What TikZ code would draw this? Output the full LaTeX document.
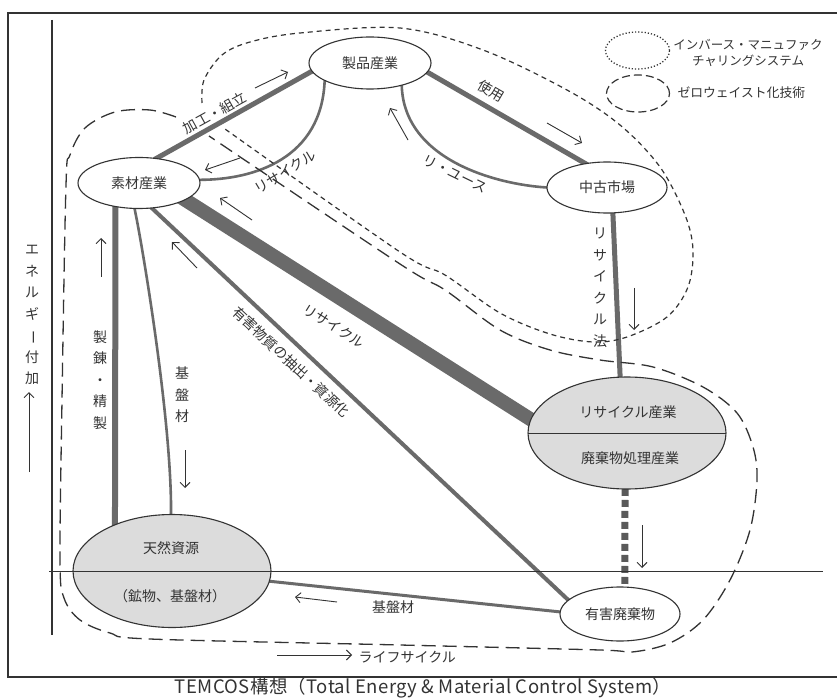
\documentclass[tikz,border=0pt]{standalone}
\usepackage{fontspec}
\setmainfont{Noto Sans CJK JP}
\usepackage{graphicx}
\usetikzlibrary{shapes.geometric,arrows.meta,calc}
\pgfdeclarelayer{bg}
\pgfsetlayers{bg,main}
\definecolor{ink}{HTML}{333333}
\definecolor{conn}{HTML}{6A6A6A}
\definecolor{shade}{HTML}{DCDCDC}
\newcommand{\vchoon}{\rotatebox[origin=c]{-90}{ー}}
\begin{document}
\begin{tikzpicture}[x=1pt,y=-1pt,font=\fontsize{14}{17}\selectfont,text=ink,
  ell/.style={ellipse, draw=ink, line width=1.1pt, fill=white, inner sep=0pt, outer sep=0pt},
  cline/.style={draw=conn, shorten <=-2pt, shorten >=-2pt},
  ccurve/.style={draw=conn, line width=2.6pt},
  flow/.style={draw=ink, line width=0.9pt, -{Straight Barb[length=5pt,width=10pt]}},
  vtext/.style={align=center, font=\fontsize{14}{21.5}\selectfont, inner sep=1pt},
  imloop/.style={draw=ink, line width=1.2pt, dash pattern=on 5pt off 4pt},
  zwloop/.style={draw=ink, line width=1.3pt, dash pattern=on 14pt off 7pt}]
\useasboundingbox (0,0) rectangle (837,700);

% nodes
\node[ell, minimum width=122pt, minimum height=52pt] (P) at (370,63) {製品産業};
\node[ell, minimum width=122pt, minimum height=51pt] (S) at (139,183) {素材産業};
\node[ell, minimum width=120pt, minimum height=51pt] (C) at (607,187.5) {中古市場};
\node[ell, fill=shade, minimum width=198pt, minimum height=112pt] (R) at (627,433) {};
\node[ell, fill=shade, minimum width=198pt, minimum height=113pt] (N) at (172,571) {};
\node[ell, minimum width=120pt, minimum height=54pt] (Y) at (620,614) {有害廃棄物};

\draw[ink, line width=1pt] (R.west) -- (R.east);
\node (Rt) at (628,412) {リサイクル産業};
\node (Rb) at (630,458) {廃棄物処理産業};
\node (Nt) at (171,548) {天然資源};
\node (Nb) at (170,596) {（鉱物、基盤材）};

\begin{pgfonlayer}{bg}
\fill[white] (0,0) rectangle (837,700);
% connectors
\draw[cline, line width=5pt] (S.55) -- (P.188);
\draw[cline, line width=5pt] (P.-9) -- (C.132);
\draw[cline, line width=5pt] (C.-77) -- (R.97);
\draw[cline, line width=14pt, shorten <=-8pt, shorten >=-8pt] (S.-20) -- (R.172);
\draw[cline, line width=4pt] (S.-63) -- (Y.165);
\draw[cline, line width=6pt] (S.-135) -- (N.141);
\draw[ccurve] (S.-100) .. controls +(7,32) and +(1,-94) .. (N.91);
\draw[cline, line width=3pt] (N.-6) -- (Y.178);
\draw[ccurve] (P.201) .. controls +(-3,78) and +(55,0) .. (S.3);
\draw[ccurve] (P.-35) .. controls +(2,75) and +(-50,-3) .. (C.180);
\draw[draw=conn!85!black, line width=7pt, dash pattern=on 7pt off 4pt] (R.-92) -- (Y.80);
% boundaries
\draw[imloop] plot[smooth, tension=0.55] coordinates {(202,103) (204,80) (222,55) (250,42) (300,33) (400,28) (483,50) (567,90) (620,125) (660,167) (685,215) (693,250) (688,287) (667,317) (627,337) (593,342) (550,334) (500,313) (445,275) (400,252) (225,129)};
\draw[zwloop] plot[smooth, tension=0.55] coordinates {(176,117) (150,110) (115,112) (85,128) (70,155) (66,185) (62,400) (60,560) (64,598) (80,620) (110,633) (150,639) (400,645) (600,650) (632,652) (670,643) (703,620) (730,580) (750,530) (757,480) (753,447) (737,413) (703,387) (653,367) (600,360) (550,350) (500,330) (445,290) (400,264) (209,136)};
\end{pgfonlayer}

% frame and axes
\draw[ink, line width=1.3pt] (837,13) -- (8,13) -- (8,677) -- (837,677);
\draw[ink, line width=1.3pt] (52,20) -- (52,635);
\draw[ink, line width=1pt] (49,571) -- (823,571);

% flow arrows
\draw[flow] (255,88) -- (288,72);
\draw[flow] (240,158) -- (205,170);
\draw[flow] (408,140) -- (390,108);
\draw[flow] (547,123) -- (582,143);
\draw[flow] (252,220) -- (220,198);
\draw[flow] (634,288) -- (634,330);
\draw[flow] (101,277) -- (101,238);
\draw[flow] (197,268) -- (172,242);
\draw[flow] (185,450) -- (185,488);
\draw[flow] (29,472) -- (29,392);
\draw[flow] (642,525) -- (642,568);
\draw[flow] (337,602) -- (295,597);
\draw[flow] (277,655) -- (352,655);

% labels
\node[rotate=29, inner sep=0pt] (l1) at (215,113) {加工・組立};
\node[rotate=31, inner sep=0pt] (l2) at (285,172) {リサイクル};
\node[rotate=-30] (l3) at (491,91) {使用};
\node[rotate=-26] (l4) at (455,174) {リ・ユース};
\node[vtext] (l5) at (600,288) {リ\\サ\\イ\\ク\\ル\\法};
\node[rotate=-32, inner sep=0pt] (l6) at (334,326) {リサイクル};
\node[rotate=-43, inner sep=0pt] (l7) at (291,362) {有害物質の抽出・資源化};
\node[vtext] (l8) at (100,380) {製\\錬\\・\\精\\製};
\node[vtext] (l9) at (182,395) {基\\盤\\材};
\node[vtext] (l10) at (32,315) {エ\\ネ\\ル\\ギ\\\vchoon\\付\\加};
\node (l11) at (393,607) {基盤材};
\node[anchor=west] (l12) at (355,657) {ライフサイクル};
\node[font={\fontsize{18.5}{21}\selectfont\addfontfeatures{LetterSpace=2}}] (title) at (423,688) {TEMCOS構想（Total Energy \& Material Control System）};

% legend
\node[ellipse, draw=ink, line width=1.3pt, dash pattern=on 1.2pt off 2pt, minimum width=64pt, minimum height=37pt, inner sep=0pt] (lg1) at (637.5,50.5) {};
\node[align=center, font=\fontsize{12.5}{16}\selectfont] (lg1t) at (748,53) {インバース・マニュファク\\チャリングシステム};
\node[ellipse, draw=ink, line width=1.2pt, dash pattern=on 8pt off 4pt, minimum width=63pt, minimum height=37pt, inner sep=0pt] (lg2) at (638,93.5) {};
\node[anchor=west, font=\fontsize{12.8}{15}\selectfont] (lg2t) at (674,93) {ゼロウェイスト化技術};
\end{tikzpicture}
\end{document}
